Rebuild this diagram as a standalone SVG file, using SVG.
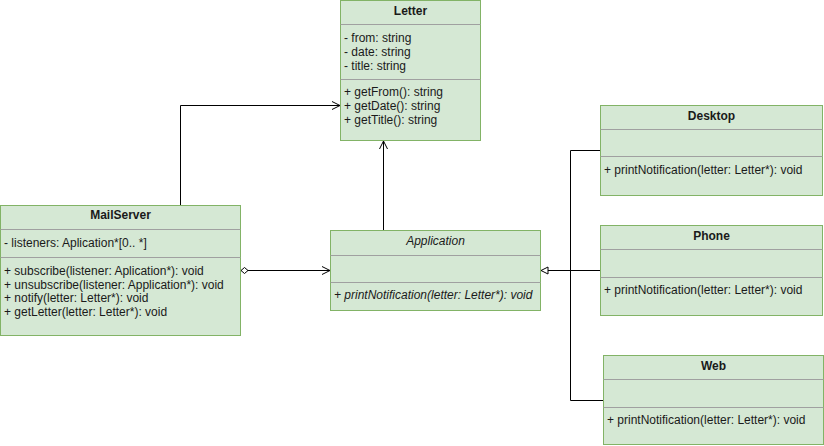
<svg xmlns="http://www.w3.org/2000/svg" width="824" height="446" viewBox="0 0 824 446">
  <style>
    .box { fill: #d5e8d4; stroke: #82b366; stroke-width: 1; }
    .div { stroke: #a0a0a0; stroke-width: 1; fill: none; }
    text { font-family: "Liberation Sans", Arial, sans-serif; font-size: 12px; fill: #1a1a1a; }
    .title { font-weight: bold; text-anchor: middle; }
    .it { font-style: italic; }
    .edge { fill: none; stroke: #000; stroke-width: 1; }
  </style>
  <defs>
    <marker id="open" viewBox="0 0 10 10" refX="9" refY="5" markerWidth="10" markerHeight="10" markerUnits="userSpaceOnUse" orient="auto">
      <path d="M1,1 L9,5 L1,9" fill="none" stroke="#000" stroke-width="1"/>
    </marker>
    <marker id="tri" viewBox="0 0 10 10" refX="9" refY="5" markerWidth="10" markerHeight="10" markerUnits="userSpaceOnUse" orient="auto">
      <path d="M2,1.5 L9,5 L2,8.5 Z" fill="#fff" stroke="#000" stroke-width="1"/>
    </marker>
    <marker id="diamond" viewBox="0 0 10 10" refX="1" refY="5" markerWidth="10" markerHeight="10" markerUnits="userSpaceOnUse" orient="auto">
      <path d="M1,5 L4.5,2 L8,5 L4.5,8 Z" fill="#fff" stroke="#000" stroke-width="1"/>
    </marker>
  </defs>

  <g id="connectors">
    <!-- MailServer uses Letter -->
    <path class="edge" d="M180.5,205 V105.5 H340" marker-end="url(#open)"/>
    <!-- Application uses Letter -->
    <path class="edge" d="M383.5,230 V141" marker-end="url(#open)"/>
    <!-- MailServer aggregates Application -->
    <path class="edge" d="M241,270.5 H330" marker-start="url(#diamond)" marker-end="url(#open)"/>
    <!-- Realizations of Application -->
    <path class="edge" d="M600,270.5 H541" marker-end="url(#tri)"/>
    <path class="edge" d="M600,150.5 H570.5 V400.5 H603"/>
  </g>

  <g id="letter">
    <rect class="box" x="340.5" y="0.5" width="140" height="140"/>
    <line class="div" x1="340.5" y1="24.5" x2="480.5" y2="24.5"/>
    <line class="div" x1="340.5" y1="79.5" x2="480.5" y2="79.5"/>
    <text class="title" x="410.5" y="15">Letter</text>
    <text x="344" y="42">- from: string</text>
    <text x="344" y="56">- date: string</text>
    <text x="344" y="70">- title: string</text>
    <text x="344" y="96">+ getFrom(): string</text>
    <text x="344" y="110">+ getDate(): string</text>
    <text x="344" y="124">+ getTitle(): string</text>
  </g>

  <g id="mailserver">
    <rect class="box" x="0.5" y="205.5" width="240" height="130"/>
    <line class="div" x1="0.5" y1="229.5" x2="240.5" y2="229.5"/>
    <line class="div" x1="0.5" y1="257.5" x2="240.5" y2="257.5"/>
    <text class="title" x="120.5" y="219">MailServer</text>
    <text x="4" y="247">- listeners: Aplication*[0.. *]</text>
    <text x="4" y="275">+ subscribe(listener: Aplication*): void</text>
    <text x="4" y="289">+ unsubscribe(listener: Application*): void</text>
    <text x="4" y="302">+ notify(letter: Letter*): void</text>
    <text x="4" y="316">+ getLetter(letter: Letter*): void</text>
  </g>

  <g id="application">
    <rect class="box" x="330.5" y="230.5" width="210" height="80"/>
    <line class="div" x1="330.5" y1="255.5" x2="540.5" y2="255.5"/>
    <line class="div" x1="330.5" y1="282.5" x2="540.5" y2="282.5"/>
    <text class="it" x="435.5" y="245" text-anchor="middle">Application</text>
    <text class="it" x="334" y="299">+ printNotification(letter: Letter*): void</text>
  </g>

  <g id="desktop">
    <rect class="box" x="600.5" y="105.5" width="222" height="90"/>
    <line class="div" x1="600.5" y1="129.5" x2="822.5" y2="129.5"/>
    <line class="div" x1="600.5" y1="156.5" x2="822.5" y2="156.5"/>
    <text class="title" x="711.5" y="120">Desktop</text>
    <text x="604" y="174">+ printNotification(letter: Letter*): void</text>
  </g>

  <g id="phone">
    <rect class="box" x="600.5" y="225.5" width="222" height="90"/>
    <line class="div" x1="600.5" y1="249.5" x2="822.5" y2="249.5"/>
    <line class="div" x1="600.5" y1="277.5" x2="822.5" y2="277.5"/>
    <text class="title" x="711.5" y="240">Phone</text>
    <text x="604" y="294">+ printNotification(letter: Letter*): void</text>
  </g>

  <g id="web">
    <rect class="box" x="603.5" y="355.5" width="220" height="89"/>
    <line class="div" x1="603.5" y1="379.5" x2="823.5" y2="379.5"/>
    <line class="div" x1="603.5" y1="407.5" x2="823.5" y2="407.5"/>
    <text class="title" x="713.5" y="370">Web</text>
    <text x="607" y="424">+ printNotification(letter: Letter*): void</text>
  </g>
</svg>
